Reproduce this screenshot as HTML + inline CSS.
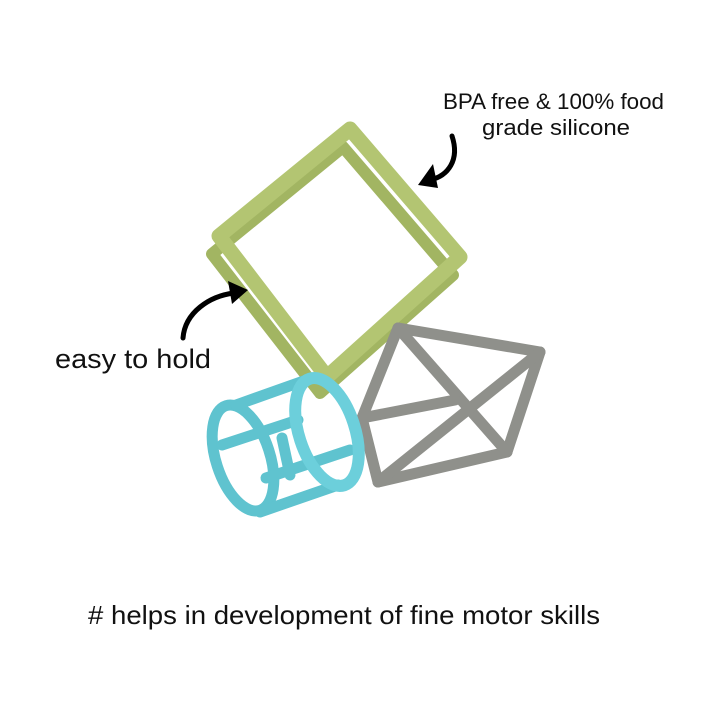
<!DOCTYPE html>
<html><head><style>
html,body{margin:0;padding:0;background:#fff;}
svg{display:block;}
text{font-family:"Liberation Sans Narrow","Liberation Sans",sans-serif;fill:#111;}
</style></head><body>
<svg width="720" height="720" viewBox="0 0 720 720" xmlns="http://www.w3.org/2000/svg">
<rect width="720" height="720" fill="#fff"/>
<g fill="none" stroke-linejoin="round" stroke-linecap="round">
<polygon points="343,147 453,275 320,393 212,254" stroke="#a2b562" stroke-width="12"/>
<polygon points="350,129 460,257 327,377 219,236" stroke="#b3c572" stroke-width="15"/>
<g stroke="#8f908b" stroke-width="11">
<polygon points="398,328 540,352 507,452 378,482 362,418"/>
<line x1="398" y1="328" x2="507" y2="452"/>
<line x1="540" y1="352" x2="378" y2="482"/>
<line x1="362" y1="418" x2="455" y2="400"/>
</g>
<g stroke="#5fc3cf" stroke-width="11">
<ellipse cx="243" cy="458" rx="27" ry="55" transform="rotate(-18 243 458)"/>
<line x1="236" y1="405" x2="312" y2="378"/>
<line x1="260" y1="512" x2="338" y2="485"/>
<line x1="222" y1="445" x2="298" y2="420"/>
<line x1="266" y1="478" x2="350" y2="450"/>
<line x1="282" y1="438" x2="290" y2="475"/>
<ellipse cx="327" cy="432" rx="28" ry="56" transform="rotate(-18 327 432)" stroke="#6ccfdb" stroke-width="12"/>
</g>
</g>
<path d="M452,136 C460,160 448,176 430,180" stroke="#000" stroke-width="5" fill="none" stroke-linecap="round"/>
<polygon points="418,185 433,164 438,188" fill="#000"/>
<path d="M183,338 C185,312 210,296 234,293" stroke="#000" stroke-width="5" fill="none" stroke-linecap="round"/>
<polygon points="248,290 228,281 232,304" fill="#000"/>
<text x="443" y="109" font-size="22" textLength="221" lengthAdjust="spacingAndGlyphs">BPA free &amp; 100% food</text>
<text x="482" y="135" font-size="22" textLength="148" lengthAdjust="spacingAndGlyphs">grade silicone</text>
<text x="55" y="368" font-size="27" textLength="156" lengthAdjust="spacingAndGlyphs">easy to hold</text>
<text x="88" y="624" font-size="26" textLength="512" lengthAdjust="spacingAndGlyphs"># helps in development of fine  motor skills</text>
</svg>
</body></html>
